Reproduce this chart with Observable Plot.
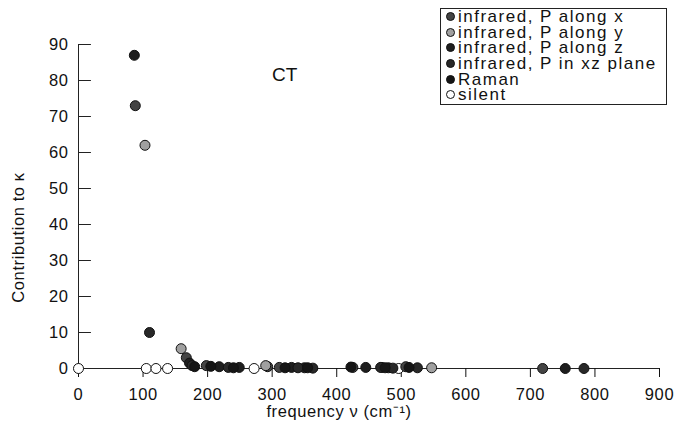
<!DOCTYPE html>
<html><head><meta charset="utf-8">
<script src="https://cdn.jsdelivr.net/npm/d3@7"></script>
<script src="https://cdn.jsdelivr.net/npm/@observablehq/plot@0.6"></script>
<style>
body{margin:0;background:#fff;}
#wrap{position:relative;width:677px;height:431px;font-family:"Liberation Sans",Arial,sans-serif;}
#legend{position:absolute;left:440px;top:8px;width:227px;border:1px solid #222;background:#fff;padding:0 0 1px 0;box-sizing:border-box;}
#legend div{height:15.7px;line-height:15.7px;font-size:17px;letter-spacing:1.5px;white-space:nowrap;color:#111;}
#legend span{display:inline-block;width:9px;height:9px;border-radius:50%;border:1px solid #111;box-sizing:border-box;margin:0 3px 0 5px;vertical-align:1px;}
#ct{position:absolute;left:272px;top:64px;font-size:19px;color:#111;}
svg text{letter-spacing:0.6px;}
</style></head>
<body><div id="wrap"></div>
<script>
const seriesNames = ["infrared, P along x","infrared, P along y","infrared, P along z","infrared, P in xz plane","Raman","silent"];
const seriesFill = ["#444","#a0a0a0","#1e1e1e","#282828","#151515","#ffffff"];

const freqX = [88, 167, 198, 293, 311, 425, 507, 719];
const valX  = [73, 3, 0.8, 0.5, 0.3, 0.3, 0.5, 0];
const freqY = [103, 159, 290, 470, 547];
const valY  = [62, 5.5, 0.8, 0.3, 0.2];
const freqZ = [86.5, 172, 218, 249, 330, 350, 445, 480, 754];
const valZ  = [87, 1.5, 0.5, 0.3, 0.3, 0.2, 0.3, 0.2, 0];
const freqXZ = [110, 176, 232, 340, 363, 468, 487, 525, 783];
const valXZ  = [10, 0.8, 0.3, 0.2, 0.1, 0.3, 0.1, 0.2, 0];
const freqRaman = [180, 205, 240, 320, 355, 422, 475, 512];
const valRaman  = [0.5, 0.6, 0.2, 0.2, 0.2, 0.4, 0.2, 0.3];
const freqSilent = [0, 105, 120, 138, 272, 496];
const valSilent  = [0, 0, 0, 0, 0, 0];

const xTicks = [0,100,200,300,400,500,600,700,800,900];
const yTicks = [0,10,20,30,40,50,60,70,80,90];
const xLabel = "frequency ν (cm⁻¹)";
const yLabel = "Contribution to κ";

const groups = [[freqX,valX],[freqY,valY],[freqZ,valZ],[freqXZ,valXZ],[freqRaman,valRaman],[freqSilent,valSilent]];
const data = [];
groups.forEach(([f,v],i)=>f.forEach((fx,j)=>data.push({f:fx,v:v[j],s:i})));
data.sort((a,b)=> (a.s===5?-1:0) - (b.s===5?-1:0));

const chart = Plot.plot({
  width: 677, height: 431,
  marginLeft: 78, marginRight: 18, marginTop: 44, marginBottom: 63,
  style: {fontSize: "16.5px", fontFamily: "Liberation Sans, Arial, sans-serif", background: "white", color: "#111"},
  x: {domain: [0, 900]},
  y: {domain: [0, 90]},
  marks: [
    Plot.ruleY([0], {x1: 0, x2: 900, stroke: "#222"}),
    Plot.ruleX([0], {y1: 0, y2: 90, stroke: "#222"}),
    Plot.ruleY(yTicks, {x1: 0, x2: 20, stroke: "#222"}),
    Plot.axisX({ticks: xTicks, tickSize: 9, tickPadding: 11, label: null}),
    Plot.axisY({ticks: yTicks, tickSize: 0, tickPadding: 10, label: null}),
    Plot.text([xLabel], {frameAnchor: "bottom", textAnchor: "middle", dx: -30, dy: 48, fontSize: 16.5, fill: "#111"}),
    Plot.text([yLabel], {frameAnchor: "left", textAnchor: "middle", rotate: -90, dx: -60, dy: 31, fontSize: 16.5, fill: "#111"}),
    Plot.dot(data, {x: "f", y: "v", r: 5, fill: d => seriesFill[d.s], stroke: "#111", strokeWidth: 1, fillOpacity: 1})
  ]
});
const wrap = document.getElementById("wrap");
wrap.appendChild(chart);
const ct = document.createElement("div"); ct.id = "ct"; ct.textContent = "CT"; wrap.appendChild(ct);
const lg = document.createElement("div"); lg.id = "legend";
seriesNames.forEach((n,i)=>{
  const row = document.createElement("div");
  const sw = document.createElement("span"); sw.style.background = seriesFill[i];
  row.appendChild(sw); row.appendChild(document.createTextNode(n));
  lg.appendChild(row);
});
wrap.appendChild(lg);
</script></body></html>
